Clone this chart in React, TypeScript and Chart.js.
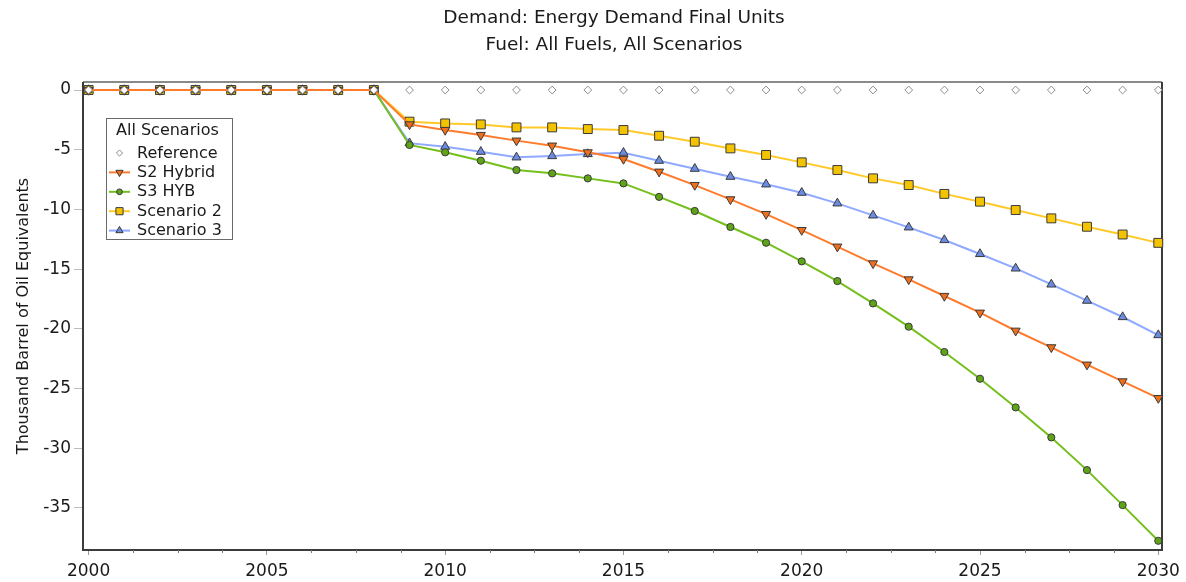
import React, { useEffect, useRef } from 'react';
import { Chart, registerables } from 'chart.js';

Chart.register(...registerables);

const TITLE_LINES = ['Demand: Energy Demand Final Units', 'Fuel: All Fuels, All Scenarios'];
const Y_AXIS_TITLE = 'Thousand Barrel of Oil Equivalents';
const LEGEND_TITLE = 'All Scenarios';

const YEARS = [
  2000, 2001, 2002, 2003, 2004, 2005, 2006, 2007, 2008, 2009, 2010,
  2011, 2012, 2013, 2014, 2015, 2016, 2017, 2018, 2019, 2020,
  2021, 2022, 2023, 2024, 2025, 2026, 2027, 2028, 2029, 2030,
];
const X_TICKS = [2000, 2005, 2010, 2015, 2020, 2025, 2030];
const Y_TICKS = [0, -5, -10, -15, -20, -25, -30, -35];

const REFERENCE = [
  0, 0, 0, 0, 0, 0, 0, 0, 0, 0, 0,
  0, 0, 0, 0, 0, 0, 0, 0, 0, 0,
  0, 0, 0, 0, 0, 0, 0, 0, 0, 0,
];
const S2_HYBRID = [
  0, 0, 0, 0, 0, 0, 0, 0, 0, -2.88, -3.35,
  -3.77, -4.24, -4.66, -5.22, -5.78, -6.84, -7.96, -9.16, -10.39, -11.73,
  -13.12, -14.52, -15.86, -17.25, -18.65, -20.16, -21.55, -23.0, -24.4, -25.8,
];
const S3_HYB = [
  0, 0, 0, 0, 0, 0, 0, 0, 0, -4.6, -5.22,
  -5.92, -6.7, -6.98, -7.4, -7.82, -8.95, -10.13, -11.47, -12.79, -14.35,
  -16.0, -17.87, -19.82, -21.94, -24.18, -26.58, -29.09, -31.83, -34.76, -37.75,
];
const SCENARIO_2 = [
  0, 0, 0, 0, 0, 0, 0, 0, 0, -2.65, -2.8,
  -2.88, -3.13, -3.13, -3.27, -3.35, -3.83, -4.33, -4.89, -5.44, -6.06,
  -6.7, -7.4, -7.96, -8.7, -9.35, -10.05, -10.75, -11.45, -12.1, -12.8,
];
const SCENARIO_3 = [
  0, 0, 0, 0, 0, 0, 0, 0, 0, -4.45, -4.75,
  -5.17, -5.64, -5.53, -5.36, -5.25, -5.92, -6.59, -7.26, -7.9, -8.6,
  -9.49, -10.5, -11.5, -12.56, -13.73, -14.94, -16.28, -17.64, -19.01, -20.52,
];

const FONT = "'DejaVu Sans', sans-serif";
const TEXT_COLOR = '#1a1a1a';

type SeriesStyle = {
  label: string;
  values: number[];
  line: string | null;
  fill: string;
  border: string;
  shape: 'circle' | 'rect' | 'triangle' | 'diamond';
  radius: number;
  rotation: number;
};

const SERIES: SeriesStyle[] = [
  { label: 'Reference', values: REFERENCE, line: null, fill: '#ffffff', border: '#8c8c8c', shape: 'diamond', radius: 3.9, rotation: 0 },
  { label: 'S2 Hybrid', values: S2_HYBRID, line: '#ff7b2c', fill: '#ee6f1c', border: '#3a3a3a', shape: 'triangle', radius: 5.2, rotation: 180 },
  { label: 'S3 HYB', values: S3_HYB, line: '#74bf1c', fill: '#5ea416', border: '#3a3a3a', shape: 'circle', radius: 3.6, rotation: 0 },
  { label: 'Scenario 2', values: SCENARIO_2, line: '#ffc928', fill: '#f4c300', border: '#3a3a3a', shape: 'rect', radius: 6.3, rotation: 0 },
  { label: 'Scenario 3', values: SCENARIO_3, line: '#8ea9ff', fill: '#6b8be0', border: '#3a3a3a', shape: 'triangle', radius: 5.2, rotation: 0 },
];

const toChartStyle = (s: SeriesStyle) =>
  s.shape === 'diamond' ? 'rectRot' : s.shape === 'rect' ? 'rect' : s.shape === 'triangle' ? 'triangle' : 'circle';

function drawMarker(ctx: CanvasRenderingContext2D, s: SeriesStyle, x: number, y: number, scale: number) {
  const r = s.radius * scale;
  ctx.save();
  ctx.beginPath();
  if (s.shape === 'circle') {
    ctx.arc(x, y, r, 0, Math.PI * 2);
  } else if (s.shape === 'rect') {
    const h = r * Math.SQRT1_2;
    ctx.rect(x - h, y - h, 2 * h, 2 * h);
  } else if (s.shape === 'diamond') {
    ctx.moveTo(x - r, y);
    ctx.lineTo(x, y - r);
    ctx.lineTo(x + r, y);
    ctx.lineTo(x, y + r);
    ctx.closePath();
  } else {
    const rad = (s.rotation * Math.PI) / 180;
    for (let i = 0; i < 3; i++) {
      const a = rad + (i * 2 * Math.PI) / 3;
      const px = x + Math.sin(a) * r;
      const py = y - Math.cos(a) * r;
      if (i === 0) ctx.moveTo(px, py);
      else ctx.lineTo(px, py);
    }
    ctx.closePath();
  }
  ctx.fillStyle = s.fill;
  ctx.fill();
  ctx.lineWidth = 1;
  ctx.strokeStyle = s.border;
  ctx.stroke();
  ctx.restore();
}

const framePlugin = {
  id: 'frame',
  beforeDatasetsDraw(chart: any) {
    const { ctx, chartArea: a } = chart;
    ctx.save();
    ctx.lineWidth = 2;
    ctx.strokeStyle = '#8a8a8a';
    ctx.beginPath();
    ctx.moveTo(a.left, a.top);
    ctx.lineTo(a.right, a.top);
    ctx.stroke();
    ctx.strokeStyle = '#3c3c3c';
    ctx.beginPath();
    ctx.moveTo(a.right, a.top);
    ctx.lineTo(a.right, a.bottom);
    ctx.lineTo(a.left, a.bottom);
    ctx.lineTo(a.left, a.top);
    ctx.stroke();
    // minor ticks on x axis
    const xs = chart.scales.x;
    ctx.lineWidth = 1;
    ctx.strokeStyle = '#777';
    for (let k = 0; k < X_TICKS.length - 1; k++) {
      for (let m = 1; m < 4; m++) {
        const v = X_TICKS[k] + (m * (X_TICKS[k + 1] - X_TICKS[k])) / 4;
        const px = Math.round(xs.getPixelForValue(v)) + 0.5;
        ctx.beginPath();
        ctx.moveTo(px, a.bottom);
        ctx.lineTo(px, a.bottom + 3);
        ctx.stroke();
      }
    }
    ctx.restore();
  },
};

const textPlugin = {
  id: 'texts',
  afterDraw(chart: any) {
    const { ctx } = chart;
    ctx.save();
    // title
    ctx.fillStyle = TEXT_COLOR;
    ctx.font = `18.5px ${FONT}`;
    ctx.textAlign = 'center';
    ctx.textBaseline = 'middle';
    ctx.fillText(TITLE_LINES[0], 614, 18);
    ctx.fillText(TITLE_LINES[1], 614, 45);

    // legend box
    const bx = 106.5, by = 118.5, bw = 126, bh = 121;
    ctx.fillStyle = '#ffffff';
    ctx.fillRect(bx, by, bw, bh);
    ctx.strokeStyle = '#6a6a6a';
    ctx.lineWidth = 1;
    ctx.strokeRect(bx, by, bw, bh);
    ctx.fillStyle = TEXT_COLOR;
    ctx.font = `16px ${FONT}`;
    ctx.textAlign = 'left';
    ctx.textBaseline = 'middle';
    ctx.fillText(LEGEND_TITLE, 116, 131);
    SERIES.forEach((s, i) => {
      const y = 153 + i * 19.4;
      if (s.line) {
        ctx.strokeStyle = s.line;
        ctx.lineWidth = 2;
        ctx.beginPath();
        ctx.moveTo(109, y);
        ctx.lineTo(130, y);
        ctx.stroke();
      }
      drawMarker(ctx, s, 119.5, y, 0.8);
      ctx.fillStyle = TEXT_COLOR;
      ctx.fillText(s.label, 137, y + 0.5);
    });
    ctx.restore();
  },
};

export default function App() {
  const canvasRef = useRef<HTMLCanvasElement | null>(null);

  useEffect(() => {
    if (!canvasRef.current) return;
    const datasets = SERIES.map((s) => ({
      label: s.label,
      data: YEARS.map((yr, i) => ({ x: yr, y: s.values[i] })),
      showLine: s.line !== null,
      borderColor: s.line ?? s.border,
      borderWidth: 2,
      backgroundColor: s.fill,
      pointStyle: toChartStyle(s),
      pointRadius: s.radius,
      pointRotation: s.rotation,
      pointBackgroundColor: s.fill,
      pointBorderColor: s.border,
      pointBorderWidth: 1,
      tension: 0,
      clip: false as const,
    }));

    const chart = new Chart(canvasRef.current, {
      type: 'line',
      data: { datasets },
      plugins: [framePlugin, textPlugin],
      options: {
        animation: false,
        responsive: false,
        layout: { padding: { top: 82, right: 24, left: 0, bottom: 0 } },
        plugins: {
          legend: { display: false },
          title: { display: false },
          tooltip: { enabled: false },
        },
        scales: {
          x: {
            type: 'linear',
            min: 1999.843,
            max: 2030.104,
            afterBuildTicks: (scale: any) => {
              scale.ticks = X_TICKS.map((v) => ({ value: v }));
            },
            afterFit: (scale: any) => {
              scale.height = 32;
            },
            border: { display: false },
            grid: { drawOnChartArea: false, drawTicks: true, tickLength: 5, tickColor: '#999', tickWidth: 1 },
            ticks: {
              autoSkip: false,
              maxRotation: 0,
              padding: 6,
              color: TEXT_COLOR,
              font: { family: FONT, size: 17 },
              callback: (v: any) => String(v),
            },
          },
          y: {
            type: 'linear',
            min: -38.52,
            max: 0.67,
            afterBuildTicks: (scale: any) => {
              scale.ticks = Y_TICKS.map((v) => ({ value: v }));
            },
            afterFit: (scale: any) => {
              scale.width = 83;
            },
            border: { display: false },
            grid: { drawOnChartArea: false, drawTicks: true, tickLength: 9, tickColor: '#bdbdbd', tickWidth: 1 },
            ticks: {
              padding: 3,
              color: TEXT_COLOR,
              font: { family: FONT, size: 17 },
              callback: (v: any) => String(v),
            },
            title: {
              display: true,
              text: Y_AXIS_TITLE,
              color: TEXT_COLOR,
              font: { family: FONT, size: 16 },
              padding: { top: 14, bottom: 0 },
            },
          },
        },
      },
    });
    return () => chart.destroy();
  }, []);

  return (
    <div style={{ position: 'fixed', left: 0, top: 0, width: 1186, height: 582, background: '#ffffff' }}>
      <canvas ref={canvasRef} width={1186} height={582} style={{ display: 'block' }} />
    </div>
  );
}
